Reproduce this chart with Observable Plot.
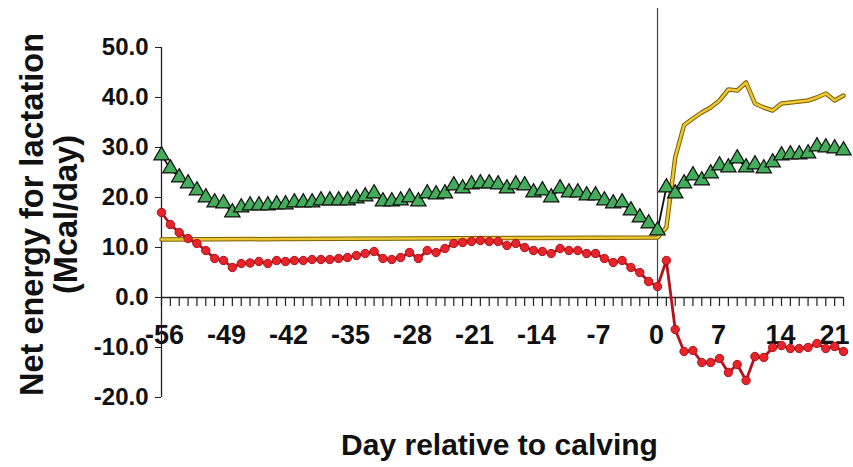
<!DOCTYPE html>
<html><head><meta charset="utf-8">
<script src="https://cdn.jsdelivr.net/npm/d3@7"></script>
<script src="https://cdn.jsdelivr.net/npm/@observablehq/plot@0.6"></script>
<style>body{margin:0;background:#fff}</style>
</head><body><div id="chart"></div>
<script>
const days = d3.range(-56, 22);
const dayLabels = [-56, -49, -42, -35, -28, -21, -14, -7, 0, 7, 14, 21];
const yTicks = [-20, -10, 0, 10, 20, 30, 40, 50];

// green triangles (days -56..21)
const green = [28.4, 25.8, 24, 22.8, 21.4, 20, 19, 18.8, 17, 18, 18.4, 18.4, 18.4, 18.6,
  18.6, 19, 19, 19, 19.4, 19.4, 19.4, 19.4, 19.8, 20.2, 20.8, 19.2, 19.2, 19.4,
  20, 19.2, 20.8, 20.6, 20.8, 22.4, 21.8, 22.6, 22.8, 22.8, 22.6, 21.8, 22.6, 22.4,
  21, 21.4, 20, 21.8, 21, 21, 20.4, 20.4, 19.4, 18.8, 19, 17.4, 16, 14.8, 13.4,
  22, 20.8, 22.8, 24.4, 23.4, 24.8, 26.4, 26, 27.8, 26, 26.6, 25.8, 27, 28.4, 28.6, 28.6, 28.8, 30.2, 30, 29.8, 29.4];

// red circles (days -56..21)
const red = [17, 14.6, 13, 11.8, 10.8, 9.4, 7.8, 7.4, 6, 6.8, 6.9, 7.2, 6.8, 7.4,
  7.2, 7.4, 7.4, 7.6, 7.6, 7.6, 7.8, 8, 8.4, 8.8, 9.2, 7.8, 7.6, 8,
  9, 7.8, 9.4, 9, 9.8, 10.8, 11, 11.2, 11.4, 11.2, 11.2, 10.4, 10.8, 10,
  9.4, 9.2, 8.8, 9.8, 9.4, 9.4, 8.8, 8.8, 7.8, 7, 7.4, 6, 5, 3.2, 2.2,
  7.4, -6.4, -10.8, -10.6, -13, -13, -12.2, -15, -13.4, -16.6, -11.8, -12, -10, -9.6, -10.2, -10.2, -10, -9.2, -10.2, -9.8, -10.8];

// gold line
const goldDays = [-56, -42, -28, -14, 0, 1, 2, 3, 4, 5, 6, 7, 8, 9, 10, 11, 12, 13, 14, 15, 16, 17, 18, 19, 20, 21];
const goldVals = [11.6, 11.7, 11.8, 11.9, 12.0, 14, 28, 34.5, 35.8, 37, 38, 39.4, 41.6, 41.4, 43, 38.8, 38, 37.4, 38.8, 39, 39.2, 39.4, 40, 40.8, 39.4, 40.4];

const greenData = days.map((d, i) => ({day: d, v: green[i]}));
const redData = days.map((d, i) => ({day: d, v: red[i]}));
const goldData = goldDays.map((d, i) => ({day: d, v: goldVals[i]}));

const font = "'Liberation Sans', Arial, Helvetica, sans-serif";
const narrow = "'Liberation Sans Narrow', 'Arial Narrow', 'Liberation Sans', sans-serif";
const lastDay = dayLabels[dayLabels.length - 1];

const chart = Plot.plot({
  width: 853, height: 467,
  marginLeft: 161, marginRight: 10, marginTop: 47, marginBottom: 70,
  style: {fontFamily: font, fontWeight: "bold", fontSize: "24px", background: "#fff", color: "#111", overflow: "visible"},
  x: {domain: [-56, 21], axis: null},
  y: {domain: [-20, 50]},
  marks: [
    Plot.axisY({ticks: yTicks, tickFormat: d => d.toFixed(1), tickSize: 6, tickPadding: 7, label: null, fontSize: 24, fontWeight: "bold", stroke: "#222"}),
    Plot.ruleX([-56], {stroke: "#222", strokeWidth: 1.3}),
    Plot.ruleY([0], {stroke: "#222", strokeWidth: 1.3}),
    Plot.ruleX(days, {x: d => d, y1: 0, y2: 0, insetBottom: -9, stroke: "#222", strokeWidth: 1.2}),
    Plot.text(dayLabels.filter(d => d < 0), {x: d => d, y: 0, dy: 38, dx: 3, text: d => String(d), fontFamily: narrow, fontSize: 27, fontWeight: "bold", fill: "#111"}),
    Plot.text(dayLabels.filter(d => d >= 0 && d !== lastDay), {x: d => d, y: 0, dy: 38, dx: -1, text: d => String(d), fontFamily: narrow, fontSize: 27, fontWeight: "bold", fill: "#111"}),
    Plot.text([lastDay], {x: d => d, y: 0, dy: 38, dx: 6, textAnchor: "end", text: d => String(d), fontFamily: narrow, fontSize: 27, fontWeight: "bold", fill: "#111"}),
    Plot.ruleX([0], {x: d => d, y1: 50, y2: 0, insetTop: -39, stroke: "#444", strokeWidth: 1.2}),
    // gold line
    Plot.line(goldData, {x: "day", y: "v", stroke: "#7a5f00", strokeWidth: 4.5}),
    Plot.line(goldData, {x: "day", y: "v", stroke: "#ecc833", strokeWidth: 2.5}),
    // green
    Plot.line(greenData, {x: "day", y: "v", stroke: "#111", strokeWidth: 1.8}),
    Plot.dot(greenData, {x: "day", y: "v", symbol: "triangle", r: 5.7, fill: "#43ad5b", stroke: "#111", strokeWidth: 1.2}),
    // red
    Plot.line(redData, {x: "day", y: "v", stroke: "#b3141b", strokeWidth: 2.8}),
    Plot.dot(redData, {x: "day", y: "v", r: 4.2, fill: "#e8232a", stroke: "#a8121a", strokeWidth: 1}),
    // titles
    Plot.text(["Net energy for lactation\n(Mcal/day)"], {frameAnchor: "left", textAnchor: "middle", text: d => d, rotate: -90, dx: -112, dy: -8, lineAnchor: "middle", fontSize: 32.5, fontWeight: "bold", fill: "#111", lineHeight: 1.03}),
    Plot.text(["Day relative to calving"], {frameAnchor: "bottom", textAnchor: "middle", text: d => d, dx: -3, dy: 48, lineAnchor: "middle", fontSize: 30, fontWeight: "bold", fill: "#111"})
  ]
});
document.getElementById("chart").appendChild(chart);
</script>
</body></html>
